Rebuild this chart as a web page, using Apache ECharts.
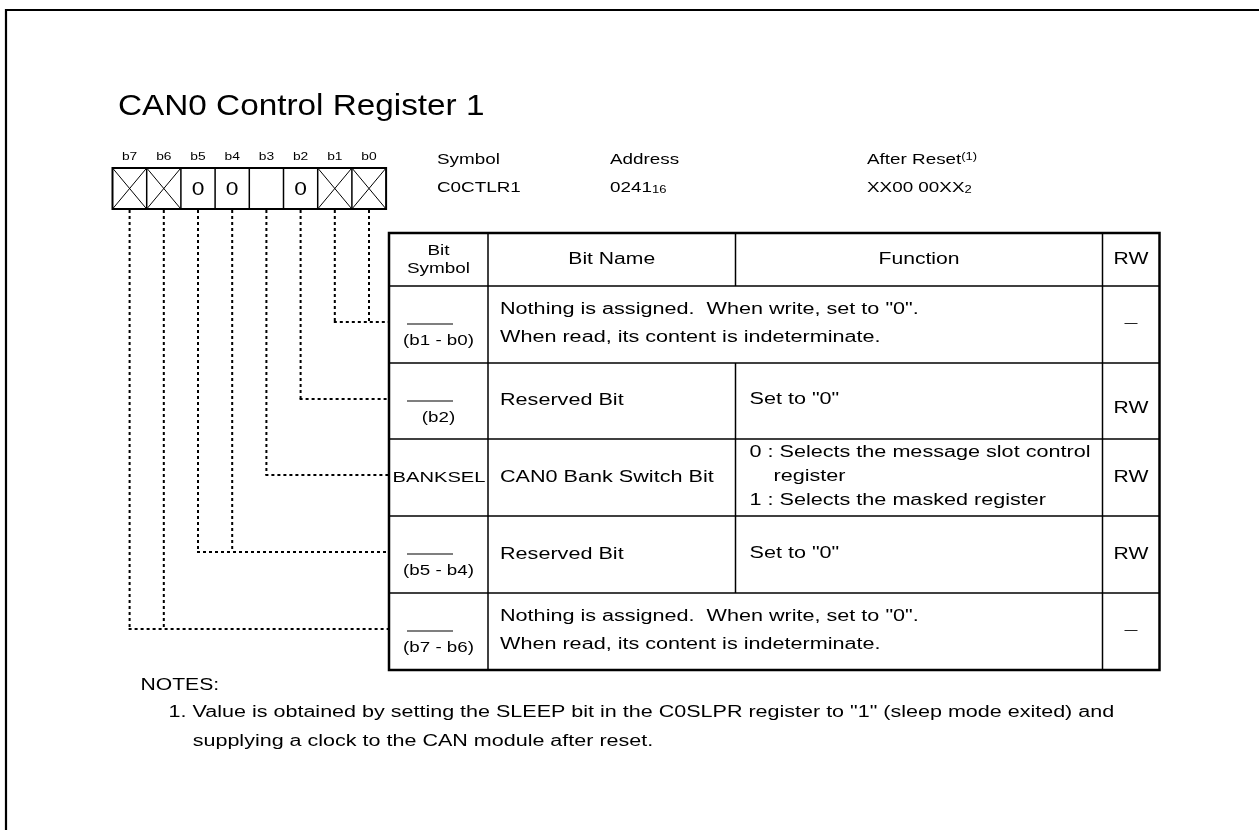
<!DOCTYPE html>
<html><head><meta charset="utf-8">
<script src="https://cdn.jsdelivr.net/npm/echarts@6/dist/echarts.min.js"></script>
<style>html,body{margin:0;padding:0;background:#fff}#c{width:1259px;height:830px}</style>
</head><body><div id="c"></div>
<script>
// ---------------- data ----------------
const title = 'CAN0 Control Register 1';
const bitLabels = ['b7','b6','b5','b4','b3','b2','b1','b0'];
const bitValues = ['X','X','0','0','','0','X','X'];          // X = nothing assigned (crossed cell)
const metaLabels = ['Symbol','Address','After Reset'];
const metaNoteRefs = ['','','(1)'];
const metaValues = ['C0CTLR1','0241','XX00 00XX'];
const metaSubscripts = ['','16','2'];
const headers = ['Bit\nSymbol','Bit Name','Function','RW'];
const rowSymbols = ['(b1 - b0)','(b2)','BANKSEL','(b5 - b4)','(b7 - b6)'];
const rowSymbolBlank = [true,true,false,true,true];
const rowNames = ['','Reserved Bit','CAN0 Bank Switch Bit','Reserved Bit',''];
const rowFunctions = [
  ['Nothing is assigned.  When write, set to "0".','When read, its content is indeterminate.'],
  ['Set to "0"'],
  ['0 : Selects the message slot control','register','1 : Selects the masked register'],
  ['Set to "0"'],
  ['Nothing is assigned.  When write, set to "0".','When read, its content is indeterminate.']
];
const rowMerged = [true,false,false,false,true];   // name + function merged into one cell
const rowRW = ['\u2014','RW','RW','RW','\u2014'];
const rowBits = [[1,0],[2],[3],[5,4],[7,6]];
const notesTitle = 'NOTES:';
const notes = [
  '1. Value is obtained by setting the SLEEP bit in the C0SLPR register to "1" (sleep mode exited) and',
  'supplying a clock to the CAN module after reset.'
];

// ---------------- layout / style ----------------
const W = 1259, H = 830;
const FONT = '"Liberation Sans", Arial, Helvetica, sans-serif';
const INK = '#000';
const SX = 1.35;
const L = {
  frameX: 6, frameY: 10,
  titleX: 118, titleY: 107, titleSize: 30, titleSX: 1.11,
  boxX: 112.5, boxY: 168, cellW: 34.2, cellH: 41, bitLabelY: 157,
  metaX: [437, 610, 867], metaY1: 160, metaY2: 188, metaSize: 14.5,
  tableX: [389, 488, 735.5, 1102.5, 1159.5],
  tableY: [233, 286, 363, 439, 516, 593, 670],
  connOff: 36, overOff: 38, symOff: 55, overCx: 430, overHalf: 23,
  rwDy: [-1, 8, 0, 0, -1],
  notesX: [140.5, 168.6, 192.7], notesY: [686, 713, 742]
};

function txt(api, x, y, text, o) {
  o = o || {};
  const p = api.coord([x, y]);
  const style = {text: text, fontSize: o.size || 16, fontFamily: FONT, fill: INK,
    align: o.align || 'left', verticalAlign: o.va || 'middle'};
  if (o.lh) style.lineHeight = o.lh;
  if (o.rich) style.rich = o.rich;
  return {type: 'text', x: p[0], y: p[1], scaleX: o.sx || SX, style: style};
}
function seg(api, x1, y1, x2, y2, w, dash) {
  const a = api.coord([x1, y1]), b = api.coord([x2, y2]);
  const st = {stroke: INK, lineWidth: w, lineCap: 'butt'};
  if (dash) st.lineDash = dash;
  return {type: 'line', shape: {x1: a[0], y1: a[1], x2: b[0], y2: b[1]}, style: st};
}
function rowOfBit(bit) { return rowBits.findIndex(g => g.indexOf(bit) >= 0); }
function connY(r) { return L.tableY[r + 1] + L.connOff; }
function bitCx(i) { return L.boxX + i * L.cellW + L.cellW / 2; }
const DOT = [3, 3];

const baseSeries = {type: 'custom', coordinateSystem: 'cartesian2d', clip: false, silent: true, animation: false};

const series = [
  // frame + title
  Object.assign({}, baseSeries, {
    data: [[0, 0]],
    renderItem: function (params, api) {
      return {type: 'group', children: [
        seg(api, L.frameX - 1, L.frameY, W, L.frameY, 2.2),
        seg(api, L.frameX, L.frameY - 1, L.frameX, H, 2.2),
        txt(api, L.titleX, L.titleY, title, {size: L.titleSize, sx: L.titleSX})
      ]};
    }
  }),
  // register bits
  Object.assign({}, baseSeries, {
    data: bitLabels.map((b, i) => [i, 0]),
    renderItem: function (params, api) {
      const i = params.dataIndex;
      const x0 = L.boxX + i * L.cellW, x1 = x0 + L.cellW, cx = bitCx(i);
      const y0 = L.boxY, y1 = L.boxY + L.cellH;
      const ch = [txt(api, cx, L.bitLabelY, bitLabels[i], {size: 11.5, align: 'center', sx: 1.2})];
      if (i > 0) ch.push(seg(api, x0, y0, x0, y1, 1.5));
      if (bitValues[i] === 'X') {
        ch.push(seg(api, x0, y0, x1, y1, 1));
        ch.push(seg(api, x1, y0, x0, y1, 1));
      } else if (bitValues[i]) {
        ch.push(txt(api, cx, (y0 + y1) / 2 + 1, bitValues[i], {size: 19, align: 'center', sx: 1.2}));
      }
      const r = rowOfBit(7 - i);
      ch.push(seg(api, cx, y1 + 1, cx, connY(r), 2, DOT));
      if (i === 0) {
        const a = api.coord([L.boxX, L.boxY]), b = api.coord([L.boxX + 8 * L.cellW, L.boxY + L.cellH]);
        ch.push({type: 'rect', shape: {x: a[0], y: a[1], width: b[0] - a[0], height: b[1] - a[1]},
          style: {fill: null, stroke: INK, lineWidth: 2}});
      }
      return {type: 'group', children: ch};
    }
  }),
  // meta info
  Object.assign({}, baseSeries, {
    data: metaLabels.map((m, i) => [i, 0]),
    renderItem: function (params, api) {
      const k = params.dataIndex, x = L.metaX[k];
      const rich = {
        m: {fontSize: L.metaSize, fontFamily: FONT, fill: INK},
        sup: {fontSize: 10, fontFamily: FONT, fill: INK, verticalAlign: 'top'},
        sub: {fontSize: 10, fontFamily: FONT, fill: INK, verticalAlign: 'bottom'}
      };
      const t1 = '{m|' + metaLabels[k] + '}' + (metaNoteRefs[k] ? '{sup|' + metaNoteRefs[k] + '}' : '');
      const t2 = '{m|' + metaValues[k] + '}' + (metaSubscripts[k] ? '{sub|' + metaSubscripts[k] + '}' : '');
      return {type: 'group', children: [
        txt(api, x, L.metaY1, t1, {size: L.metaSize, rich: rich, sx: 1.3}),
        txt(api, x, L.metaY2, t2, {size: L.metaSize, rich: rich, sx: 1.3})
      ]};
    }
  }),
  // table header + outer border
  Object.assign({}, baseSeries, {
    data: [[0, 0]],
    renderItem: function (params, api) {
      const X = L.tableX, Y = L.tableY;
      const a = api.coord([X[0], Y[0]]), b = api.coord([X[4], Y[6]]);
      const ch = [
        seg(api, X[0], Y[1], X[4], Y[1], 1.5),
        seg(api, X[1], Y[0], X[1], Y[1], 1.5),
        seg(api, X[2], Y[0], X[2], Y[1], 1.5),
        seg(api, X[3], Y[0], X[3], Y[1], 1.5)
      ];
      const cy = (Y[0] + Y[1]) / 2;
      for (let c = 0; c < 4; c++) {
        ch.push(txt(api, (X[c] + X[c + 1]) / 2, cy, headers[c],
          {size: c === 0 ? 15.5 : 16, align: 'center', lh: 18, sx: c === 0 ? 1.22 : 1.32}));
      }
      ch.push({type: 'rect', shape: {x: a[0], y: a[1], width: b[0] - a[0], height: b[1] - a[1]},
        style: {fill: null, stroke: INK, lineWidth: 2.5}});
      return {type: 'group', children: ch};
    }
  }),
  // table rows + connectors
  Object.assign({}, baseSeries, {
    data: rowSymbols.map((s, i) => [i, 0]),
    renderItem: function (params, api) {
      const r = params.dataIndex, X = L.tableX;
      const top = L.tableY[r + 1], bot = L.tableY[r + 2], cy = (top + bot) / 2;
      const ch = [];
      if (r < rowSymbols.length - 1) ch.push(seg(api, X[0], bot, X[4], bot, 1.5));
      ch.push(seg(api, X[1], top, X[1], bot, 1.5));
      if (!rowMerged[r]) ch.push(seg(api, X[2], top, X[2], bot, 1.5));
      ch.push(seg(api, X[3], top, X[3], bot, 1.5));
      const scx = (X[0] + X[1]) / 2;
      if (rowSymbolBlank[r]) {
        ch.push(seg(api, L.overCx - L.overHalf, top + L.overOff, L.overCx + L.overHalf, top + L.overOff, 1.2));
        ch.push(txt(api, scx, top + L.symOff, rowSymbols[r], {size: 15, align: 'center', sx: 1.25}));
      } else {
        ch.push(txt(api, scx + 0.5, cy, rowSymbols[r], {size: 15.5, align: 'center', sx: 1.3}));
      }
      if (!rowMerged[r] && rowNames[r]) ch.push(txt(api, X[1] + 12, cy, rowNames[r], {size: 16}));
      const lines = rowFunctions[r];
      const fx = rowMerged[r] ? X[1] + 12 : X[2] + 14;
      const lh = rowMerged[r] ? 28 : 24;
      const isOpt = lines.some(s => /^\d :/.test(s));
      lines.forEach((s, k) => {
        const indent = isOpt && !/^\d :/.test(s) ? 24 : 0;
        ch.push(txt(api, fx + indent, cy - 1 + (k - (lines.length - 1) / 2) * lh, s, {size: 16}));
      });
      ch.push(txt(api, (X[3] + X[4]) / 2, cy + L.rwDy[r], rowRW[r],
        {size: rowRW[r] === 'RW' ? 16 : 13, align: 'center', sx: rowRW[r] === 'RW' ? 1.32 : 1}));
      // connector horizontal
      const idx = rowBits[r].map(b => 7 - b);
      const left = Math.min.apply(null, idx);
      ch.push(seg(api, bitCx(left) - 1, connY(r), X[0], connY(r), 2, DOT));
      return {type: 'group', children: ch};
    }
  }),
  // notes
  Object.assign({}, baseSeries, {
    data: [[0, 0]],
    renderItem: function (params, api) {
      const ch = [txt(api, L.notesX[0], L.notesY[0], notesTitle, {size: 16, sx: 1.32})];
      notes.forEach((n, k) => ch.push(txt(api, L.notesX[k + 1], L.notesY[k + 1], n, {size: 16, sx: 1.345})));
      return {type: 'group', children: ch};
    }
  })
];

const chart = echarts.init(document.getElementById('c'));
chart.setOption({
  animation: false,
  backgroundColor: '#fff',
  grid: {left: 0, right: 0, top: 0, bottom: 0},
  xAxis: {type: 'value', min: 0, max: W, show: false},
  yAxis: {type: 'value', min: 0, max: H, inverse: true, show: false},
  series: series
});
</script>
</body></html>
